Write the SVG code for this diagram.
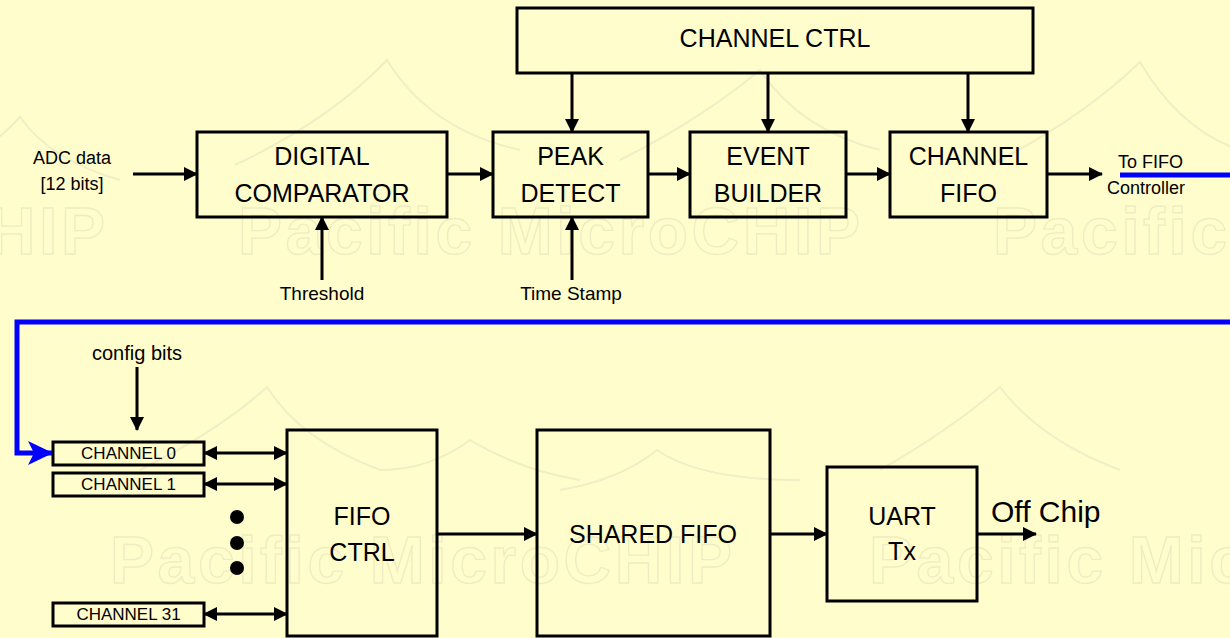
<svg xmlns="http://www.w3.org/2000/svg" width="1230" height="638" viewBox="0 0 1230 638">
  <defs>
    <style>
      .bg { fill: #FFFDCC; }
      .box { fill: none; stroke: #000; stroke-width: 3; }
      .wire { fill: none; stroke: #000; stroke-width: 3; }
      .bus { fill: none; stroke: #0000FF; stroke-width: 5; }
      .lbl { font-family: "Liberation Sans", Arial, sans-serif; fill: #000; }
      .big { font-size: 25px; text-anchor: middle; }
      .sm { font-size: 18px; }
      .ch { font-size: 17px; text-anchor: middle; }
      .wm { font-family: "Liberation Sans", Arial, sans-serif; font-weight: bold; font-size: 66px; fill: none; stroke: #EFEBC2; stroke-width: 1.3; }
      .wmarc { fill: none; stroke: #F1EDC5; stroke-width: 2; }
    </style>
    <marker id="ah" markerWidth="14" markerHeight="14" refX="13" refY="7" orient="auto-start-reverse" markerUnits="userSpaceOnUse">
      <path d="M0,0 L14,7 L0,14 z" fill="#000"/>
    </marker>
    <marker id="ahBlue" markerWidth="26" markerHeight="24" refX="24" refY="12" orient="auto" markerUnits="userSpaceOnUse">
      <path d="M0,0 L25,12 L0,24 L6,12 z" fill="#0000FF"/>
    </marker>
  </defs>

  <rect class="bg" x="0" y="0" width="1230" height="638"/>

  <!-- faint company watermark -->
  <g id="watermark">
    <path class="wmarc" d="M-60,175 Q-10,150 20,117 Q50,160 120,180"/>
    <path class="wmarc" d="M235,165 Q330,120 387,60 Q430,130 520,150"/>
    <path class="wmarc" d="M620,160 Q700,120 760,70 Q800,130 880,150"/>
    <path class="wmarc" d="M990,165 Q1080,120 1140,62 Q1180,130 1240,150"/>
    <path class="wmarc" d="M140,470 Q220,430 267,387 Q300,440 380,470"/>
    <path class="wmarc" d="M380,470 Q430,470 470,440 Q520,470 580,480"/>
    <path class="wmarc" d="M560,490 Q620,480 657,450 Q700,480 800,480"/>
    <path class="wmarc" d="M880,470 Q950,430 1000,387 Q1040,440 1120,470"/>
    <text class="wm" x="-517" y="254" textLength="622" lengthAdjust="spacing">Pacific MicroCHIP</text>
    <text class="wm" x="238" y="254" textLength="622" lengthAdjust="spacing">Pacific MicroCHIP</text>
    <text class="wm" x="993" y="254" textLength="622" lengthAdjust="spacing">Pacific MicroCHIP</text>
    <text class="wm" x="110" y="583" textLength="622" lengthAdjust="spacing">Pacific MicroCHIP</text>
    <text class="wm" x="869" y="583" textLength="622" lengthAdjust="spacing">Pacific MicroCHIP</text>
  </g>

  <!-- channel pipeline -->
  <g id="channel-ctrl">
    <rect class="box" x="517" y="8" width="516" height="65"/>
    <text class="lbl big" x="775" y="47">CHANNEL CTRL</text>
  </g>
  <g id="digital-comparator">
    <rect class="box" x="197" y="132" width="250" height="85"/>
    <text class="lbl big" x="322" y="165">DIGITAL</text>
    <text class="lbl big" x="322" y="202">COMPARATOR</text>
  </g>
  <g id="peak-detect">
    <rect class="box" x="493" y="132" width="155" height="85"/>
    <text class="lbl big" x="570.5" y="165">PEAK</text>
    <text class="lbl big" x="570.5" y="202">DETECT</text>
  </g>
  <g id="event-builder">
    <rect class="box" x="690" y="132" width="156" height="85"/>
    <text class="lbl big" x="768" y="165">EVENT</text>
    <text class="lbl big" x="768" y="202">BUILDER</text>
  </g>
  <g id="channel-fifo">
    <rect class="box" x="890" y="132" width="157" height="85"/>
    <text class="lbl big" x="968.5" y="165">CHANNEL</text>
    <text class="lbl big" x="968.5" y="202">FIFO</text>
  </g>

  <g id="inputs">
    <text class="lbl sm" x="72" y="164" text-anchor="middle">ADC data</text>
    <text class="lbl sm" x="72" y="190" text-anchor="middle">[12 bits]</text>
    <text class="lbl" font-size="19" x="322" y="300" text-anchor="middle">Threshold</text>
    <text class="lbl" font-size="19" x="571" y="300" text-anchor="middle">Time Stamp</text>
    <text class="lbl sm" x="1118" y="168">To FIFO</text>
    <text class="lbl sm" x="1107" y="194">Controller</text>
    <text class="lbl" font-size="20" x="137" y="360" text-anchor="middle">config bits</text>
  </g>

  <!-- FIFO controller side -->
  <g id="channel-0">
    <rect class="box" x="53" y="442" width="151" height="23"/>
    <text class="lbl ch" x="128.5" y="459">CHANNEL 0</text>
  </g>
  <g id="channel-1">
    <rect class="box" x="53" y="473" width="151" height="23"/>
    <text class="lbl ch" x="128.5" y="490">CHANNEL 1</text>
  </g>
  <g id="channel-31">
    <rect class="box" x="53" y="603" width="151" height="23"/>
    <text class="lbl ch" x="128.5" y="620">CHANNEL 31</text>
  </g>
  <g id="ellipsis">
    <circle cx="237" cy="517" r="7" fill="#000"/>
    <circle cx="237" cy="543" r="7" fill="#000"/>
    <circle cx="237" cy="568" r="7" fill="#000"/>
  </g>
  <g id="fifo-ctrl">
    <rect class="box" x="287" y="430" width="150" height="206"/>
    <text class="lbl big" x="362" y="525">FIFO</text>
    <text class="lbl big" x="362" y="561">CTRL</text>
  </g>
  <g id="shared-fifo">
    <rect class="box" x="537" y="430" width="233" height="206"/>
    <text class="lbl big" x="653" y="543">SHARED FIFO</text>
  </g>
  <g id="uart-tx">
    <rect class="box" x="827" y="467" width="150" height="134"/>
    <text class="lbl big" x="902" y="525">UART</text>
    <text class="lbl big" x="902" y="560">Tx</text>
  </g>
  <g id="off-chip">
    <text class="lbl" font-size="30" x="991" y="522">Off Chip</text>
  </g>

  <g id="connectors">
    <!-- control fan-out -->
    <line class="wire" x1="572" y1="73" x2="572" y2="132" marker-end="url(#ah)"/>
    <line class="wire" x1="768" y1="73" x2="768" y2="132" marker-end="url(#ah)"/>
    <line class="wire" x1="968" y1="73" x2="968" y2="132" marker-end="url(#ah)"/>
    <!-- data path -->
    <line class="wire" x1="133" y1="174" x2="197" y2="174" marker-end="url(#ah)"/>
    <line class="wire" x1="447" y1="174" x2="493" y2="174" marker-end="url(#ah)"/>
    <line class="wire" x1="648" y1="174" x2="690" y2="174" marker-end="url(#ah)"/>
    <line class="wire" x1="846" y1="174" x2="890" y2="174" marker-end="url(#ah)"/>
    <line class="wire" x1="1047" y1="174" x2="1102" y2="174" marker-end="url(#ah)"/>
    <line class="wire" x1="322" y1="280" x2="322" y2="217" marker-end="url(#ah)"/>
    <line class="wire" x1="572" y1="280" x2="572" y2="217" marker-end="url(#ah)"/>
    <!-- link to FIFO controller -->
    <line class="bus" x1="1120" y1="175" x2="1232" y2="175"/>
    <polyline class="bus" points="1232,322 17,322 17,453 52,453" marker-end="url(#ahBlue)"/>
    <!-- config -->
    <line class="wire" x1="137" y1="367" x2="137" y2="430" marker-end="url(#ah)"/>
    <!-- channel buses -->
    <line class="wire" x1="204" y1="453" x2="287" y2="453" marker-start="url(#ah)" marker-end="url(#ah)"/>
    <line class="wire" x1="204" y1="484" x2="287" y2="484" marker-start="url(#ah)" marker-end="url(#ah)"/>
    <line class="wire" x1="204" y1="614" x2="287" y2="614" marker-start="url(#ah)" marker-end="url(#ah)"/>
    <!-- output chain -->
    <line class="wire" x1="437" y1="534" x2="537" y2="534" marker-end="url(#ah)"/>
    <line class="wire" x1="770" y1="534" x2="827" y2="534" marker-end="url(#ah)"/>
    <line class="wire" x1="977" y1="534" x2="1036" y2="534" marker-end="url(#ah)"/>
  </g>
</svg>
